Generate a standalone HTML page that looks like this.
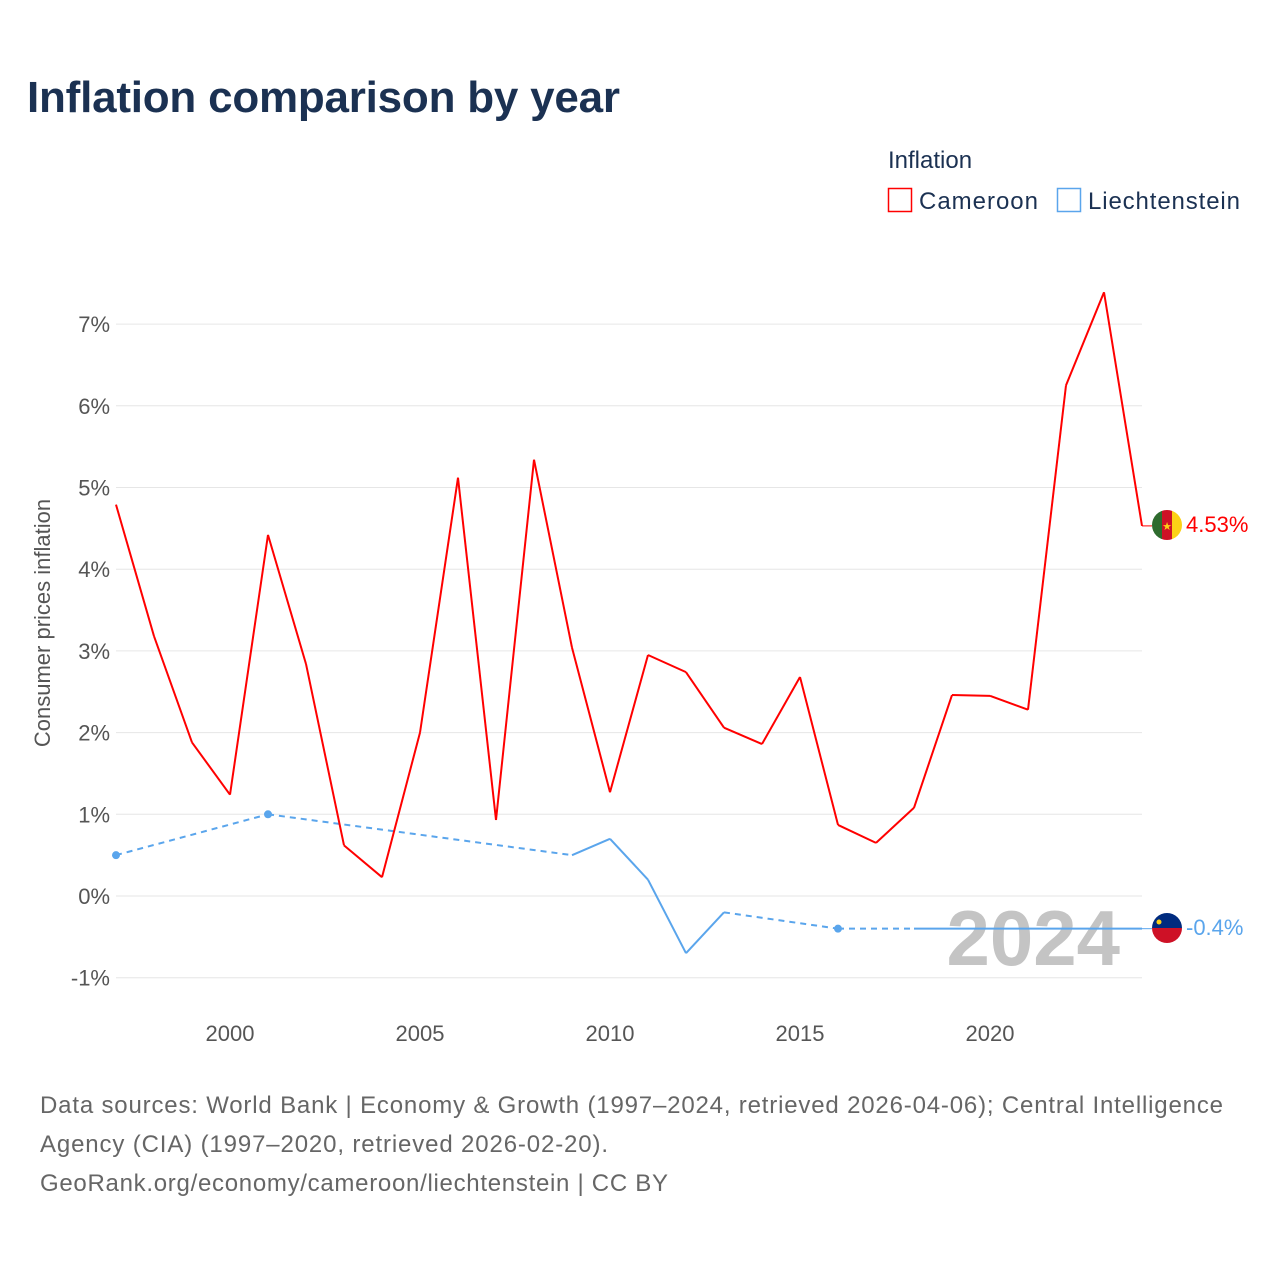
<!DOCTYPE html>
<html><head><meta charset="utf-8"><style>
body{margin:0;background:#fff;font-family:"Liberation Sans",sans-serif}
</style></head><body>
<svg width="1280" height="1280" xmlns="http://www.w3.org/2000/svg" font-family="Liberation Sans, sans-serif">
<text x="27" y="112" font-size="44" font-weight="bold" fill="#1b3152" textLength="593">Inflation comparison by year</text>
<text x="888" y="168" font-size="24" fill="#1b3152">Inflation</text>
<g><rect x="888.5" y="188.5" width="23" height="23" fill="none" stroke="#f00" stroke-width="1.5"/><text x="919" y="209" font-size="24" fill="#1b3152" textLength="119">Cameroon</text></g>
<g><rect x="1057.5" y="188.5" width="23" height="23" fill="none" stroke="#5aa5ec" stroke-width="1.5"/><text x="1088" y="209" font-size="24" fill="#1b3152" textLength="152">Liechtenstein</text></g>
<g id="grid"></g>
<text transform="translate(50,623) rotate(-90)" text-anchor="middle" font-size="22" fill="#555">Consumer prices inflation</text>
<text x="1120" y="965" text-anchor="end" font-size="78" font-weight="bold" fill="#c4c4c4">2024</text>
<g id="series"></g>
<g><clipPath id="c1"><circle cx="1167" cy="525" r="15"/></clipPath><g clip-path="url(#c1)"><rect x="1152" y="510" width="10" height="30" fill="#2e6b2e"/><rect x="1162" y="510" width="10" height="30" fill="#ce1126"/><rect x="1172" y="510" width="10" height="30" fill="#fcd116"/></g><text x="1167" y="530" text-anchor="middle" font-size="11" fill="#fcd116">★</text></g>
<g><clipPath id="c2"><circle cx="1167" cy="928" r="15"/></clipPath><g clip-path="url(#c2)"><rect x="1152" y="913" width="30" height="15" fill="#002b7f"/><rect x="1152" y="928" width="30" height="15" fill="#ce1126"/></g><circle cx="1159" cy="922" r="2.5" fill="#fcd116"/></g>
<text x="1186" y="532" font-size="22" fill="#f00">4.53%</text>
<text x="1186" y="935" font-size="22" fill="#5aa5ec">-0.4%</text>
<text font-size="24" fill="#666"><tspan x="40" y="1113" textLength="1183">Data sources: World Bank | Economy &amp; Growth (1997–2024, retrieved 2026-04-06); Central Intelligence</tspan><tspan x="40" y="1152" textLength="568">Agency (CIA) (1997–2020, retrieved 2026-02-20).</tspan><tspan x="40" y="1191" textLength="628">GeoRank.org/economy/cameroon/liechtenstein | CC BY</tspan></text>
</svg>
<script>
const yTicks=[-1,0,1,2,3,4,5,6,7];
const xTicks=[2000,2005,2010,2015,2020];
const camYears=[1997,1998,1999,2000,2001,2002,2003,2004,2005,2006,2007,2008,2009,2010,2011,2012,2013,2014,2015,2016,2017,2018,2019,2020,2021,2022,2023,2024];
const camValues=[4.79,3.18,1.88,1.24,4.42,2.84,0.62,0.23,2.0,5.12,0.93,5.34,3.04,1.27,2.95,2.74,2.06,1.86,2.68,0.87,0.65,1.08,2.46,2.45,2.28,6.25,7.39,4.53];
const liYears=[1997,2001,2009,2010,2011,2012,2013,2016,2018,2019,2020,2021,2022,2023,2024];
const liValues=[0.5,1.0,0.5,0.7,0.2,-0.7,-0.2,-0.4,-0.4,-0.4,-0.4,-0.4,-0.4,-0.4,-0.4];
const X=y=>116+(y-1997)*38;
const Y=v=>896-v*81.7;
const NS="http://www.w3.org/2000/svg";
function mk(t,a,p){const e=document.createElementNS(NS,t);for(const k in a)e.setAttribute(k,a[k]);p.appendChild(e);return e;}
const g=document.getElementById('grid');
yTicks.forEach(v=>{
 const l=mk('line',{x1:116,x2:1142,y1:Y(v),y2:Y(v),stroke:'#e6e6e6','stroke-width':1},g);
 
 
 const t=mk('text',{x:110,y:Y(v)+8,'text-anchor':'end','font-size':22,fill:'#555'},g);
 t.textContent=v+'%';
 
 
});
xTicks.forEach(y=>{
 const t=mk('text',{x:X(y),y:1041,'text-anchor':'middle','font-size':22,fill:'#555'},g);
 t.textContent=y;
 
 
});
const s=document.getElementById('series');
function draw(years,vals,color,name){
 for(let i=0;i<years.length-1;i++){
  const l=mk('line',{x1:X(years[i]),y1:Y(vals[i]),x2:X(years[i+1]),y2:Y(vals[i+1]),stroke:color,'stroke-width':2},s);
  if(years[i+1]-years[i]>1)l.setAttribute('stroke-dasharray','6,5');
  
  
 }
 for(let i=0;i<years.length;i++){
  const prev=i>0&&years[i]-years[i-1]==1, next=i<years.length-1&&years[i+1]-years[i]==1;
  if(!prev&&!next){
   const c=mk('circle',{cx:X(years[i]),cy:Y(vals[i]),r:4,fill:color},s);
   
   
  }
 }
 const last=years.length-1;
 const e=mk('line',{x1:X(years[last]),y1:Y(vals[last]),x2:1152,y2:Y(vals[last]),stroke:color,'stroke-width':1},s);
 
 
}
draw(liYears,liValues,'#5aa5ec','liechtenstein');
draw(camYears,camValues,'#f00','cameroon');
</script>
</body></html>
